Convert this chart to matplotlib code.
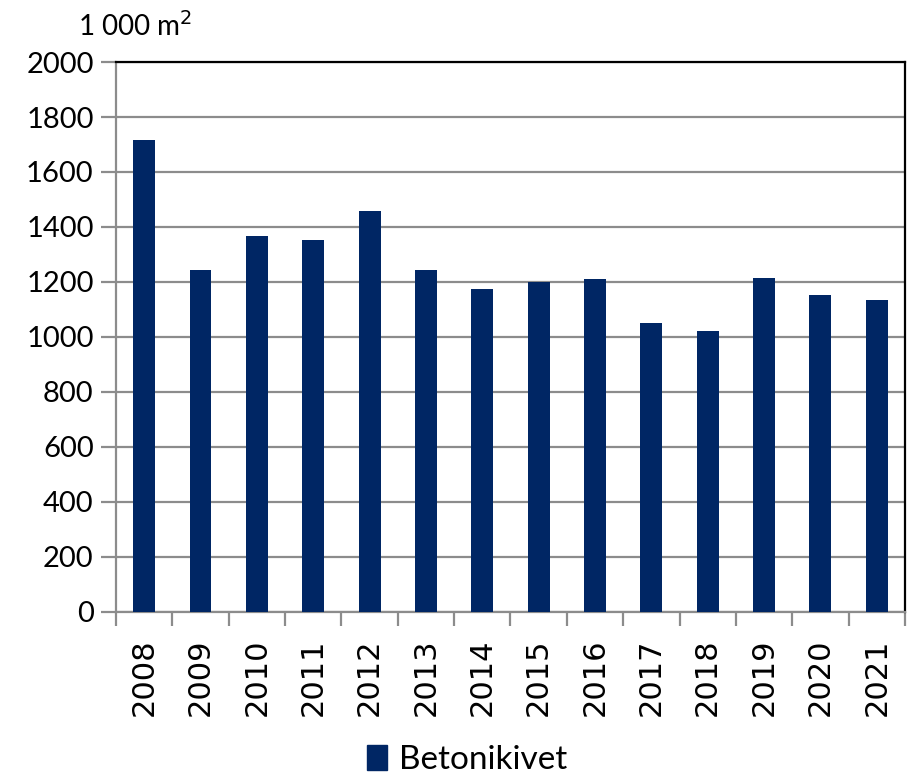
import numpy as np
import matplotlib
matplotlib.use('Agg')
import matplotlib.pyplot as plt
from matplotlib.patches import Patch

years = ['2008', '2009', '2010', '2011', '2012', '2013', '2014',
         '2015', '2016', '2017', '2018', '2019', '2020', '2021']
values = [1715, 1244, 1367, 1353, 1458, 1243, 1173,
          1201, 1210, 1050, 1021, 1213, 1152, 1136]
yticks = [0, 200, 400, 600, 800, 1000, 1200, 1400, 1600, 1800, 2000]

bar_color = '#002664'
grid_color = '#8c8c8c'

fig = plt.figure(figsize=(9.11, 7.77), dpi=100)
ax = fig.add_axes([0.1273, 0.2124, 0.8661, 0.7078])

x = np.arange(len(years))
ax.bar(x, values, width=0.39, color=bar_color, zorder=3)

ax.set_xlim(-0.5, len(years) - 0.5)
ax.set_ylim(0, 2000)
ax.set_yticks(yticks)
ax.set_yticklabels([str(v) for v in yticks], fontsize=21, family='Lato')
ax.yaxis.grid(True, color=grid_color, linewidth=1.6, zorder=0)

# category labels centred, tick marks between categories
ax.set_xticks(x)
ax.set_xticklabels(years, rotation=90, fontsize=22, family='DejaVu Sans')
ax.tick_params(axis='x', which='major', length=0, pad=19)
ax.set_xticks(np.arange(-0.5, len(years)), minor=True)
ax.tick_params(axis='x', which='minor', length=10, width=1.6,
               color=grid_color, direction='out')
ax.tick_params(axis='y', length=11, width=1.6, color=grid_color, pad=5)

for side in ['left', 'bottom']:
    ax.spines[side].set_color(grid_color)
    ax.spines[side].set_linewidth(1.6)
for side in ['top', 'right']:
    ax.spines[side].set_color('black')
    ax.spines[side].set_linewidth(1.6)

fig.text(0.086, 0.966, '1 000 m$^2$', fontsize=20, family='Lato',
         ha='left', va='center')

fig.legend(handles=[Patch(color=bar_color, label='Betonikivet')],
           loc='center', bbox_to_anchor=(0.513, 0.022), frameon=False,
           prop={'family': 'Lato', 'size': 24}, handlelength=0.6,
           handleheight=0.8, handletextpad=0.35)

fig.savefig('out.png', dpi=100)
